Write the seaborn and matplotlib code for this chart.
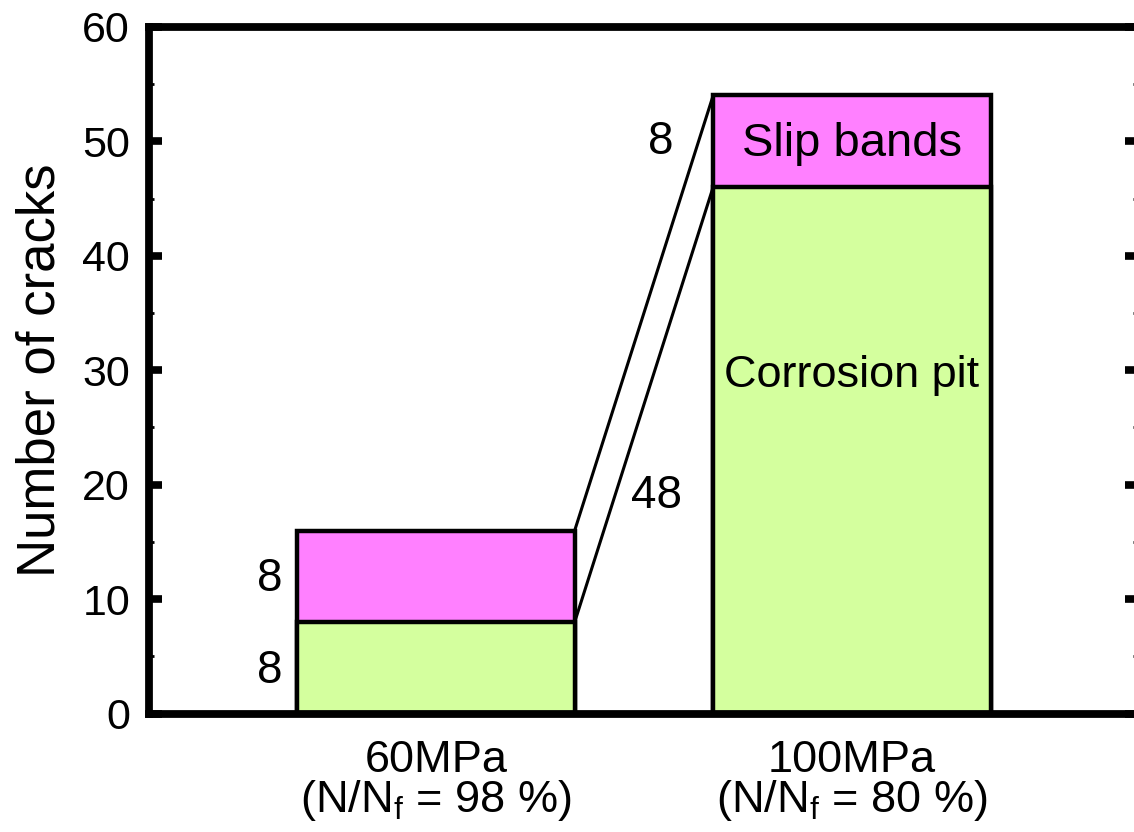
import pandas as pd
import matplotlib
matplotlib.use("Agg")
import matplotlib.pyplot as plt
import seaborn as sns

# data
stress = ["60MPa", "100MPa"]
life_ratio = [98, 80]
corrosion_pit = [8, 46]
slip_bands = [8, 8]
# numbers printed next to the bars (as printed in the original)
label_pit = ["8", "48"]
label_slip = ["8", "8"]

sns.set_style("ticks")
plt.rcParams['font.family'] = ['Liberation Sans', 'DejaVu Sans']
plt.rcParams['mathtext.fontset'] = 'custom'
plt.rcParams['mathtext.rm'] = 'Liberation Sans'
plt.rcParams['mathtext.it'] = 'Liberation Sans'
plt.rcParams['text.color'] = 'black'
plt.rcParams['axes.labelcolor'] = 'black'
plt.rcParams['xtick.color'] = 'black'
plt.rcParams['ytick.color'] = 'black'

df = pd.DataFrame({'stress': stress,
                   'pit': corrosion_pit,
                   'slip': slip_bands})
df['total'] = df['pit'] + df['slip']

bar_w = 0.667
edge_lw = 3.2

fig = plt.figure(figsize=(11.34, 8.32), dpi=100)
ax = fig.add_axes([0.1318, 0.1422, 1.0035 - 0.1318, 0.9678 - 0.1422])

# stacked bars: total first (pink), corrosion pit drawn over it (green)
sns.barplot(ax=ax, data=df, x='stress', y='total', color='#ff80ff',
            saturation=1, width=bar_w, edgecolor='black', linewidth=edge_lw)
sns.barplot(ax=ax, data=df, x='stress', y='pit', color='#d4ff9e',
            saturation=1, width=bar_w, edgecolor='black', linewidth=edge_lw)

# connecting lines between the two bars
x_right0 = 0 + bar_w / 2
x_left1 = 1 - bar_w / 2
ax.plot([x_right0, x_left1], [df['total'][0], df['total'][1]],
        color='black', lw=2.2, solid_capstyle='butt', zorder=1)
ax.plot([x_right0, x_left1], [df['pit'][0], df['pit'][1]],
        color='black', lw=2.2, solid_capstyle='butt', zorder=1)

# value labels
fs_num = 33
ax.text(-bar_w / 2 - 0.035, df['pit'][0] / 2 - 1.3, label_pit[0],
        ha='right', va='baseline', fontsize=fs_num)
ax.text(-bar_w / 2 - 0.035, df['pit'][0] + df['slip'][0] / 2 - 1.3,
        label_slip[0], ha='right', va='baseline', fontsize=fs_num)
ax.text(1 - bar_w / 2 - 0.075, 17.95, label_pit[1],
        ha='right', va='baseline', fontsize=fs_num)
ax.text(1 - bar_w / 2 - 0.095, 48.9, label_slip[1],
        ha='right', va='baseline', fontsize=fs_num)

ax.text(1, df['pit'][1] + df['slip'][1] / 2 - 1.3, 'Slip bands',
        ha='center', va='baseline', fontsize=34)
ax.text(1, 28.5, 'Corrosion pit', ha='center', va='baseline', fontsize=32.5)

ax.set_xlim(-0.689, 1.688)
ax.set_ylim(0, 60)
ax.set_yticks(range(0, 61, 10))
ax.set_yticks(range(5, 60, 10), minor=True)
ax.set_xticks(range(len(stress)))
ax.set_xticklabels([f"{s}\n(N/N$_\\mathregular{{f}}$ = {r} %)"
                    for s, r in zip(stress, life_ratio)], fontsize=32.5)
for t in ax.get_xticklabels():
    t.set_linespacing(0.92)

ax.tick_params(axis='y', which='major', direction='in', length=9.4,
               width=5.5, labelsize=31, pad=14, right=True)
ax.tick_params(axis='y', which='minor', direction='in', length=3.3,
               width=2, right=True)
ax.tick_params(axis='x', length=0, pad=19)
ax.set_xlabel('')
ax.set_ylabel('Number of cracks', fontsize=38, labelpad=12)

for side in ['left', 'right', 'top', 'bottom']:
    ax.spines[side].set_visible(True)
    ax.spines[side].set_linewidth(5.6)
    ax.spines[side].set_color('black')

plt.savefig('out.png', dpi=100, facecolor='white')
